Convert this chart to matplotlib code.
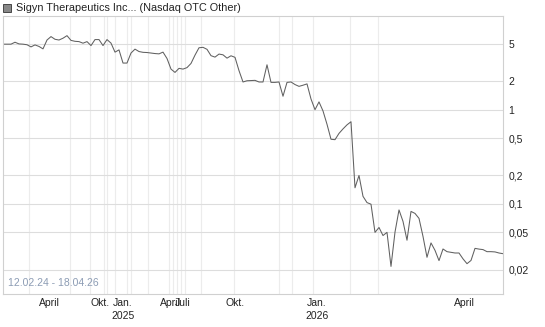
import matplotlib
matplotlib.use("Agg")
import matplotlib.pyplot as plt
from matplotlib.patches import Rectangle
import numpy as np

plt.rcParams["font.family"] = ["Liberation Sans", "DejaVu Sans"]

# Prices, one value per step of the session axis
prices = [
    4.97, 4.97, 4.97, 5.21, 5.0, 4.97, 4.9, 4.65, 4.88, 4.7,
    4.43, 5.5, 5.98, 5.6, 5.5, 5.75, 6.12, 5.45, 5.33, 5.29,
    5.09, 5.29, 4.80, 5.56, 5.56, 4.80, 5.56, 5.1, 4.09, 4.32,
    3.13, 3.13, 4.0, 4.40, 4.15, 4.07, 4.05, 4.0, 3.95, 3.92,
    4.09, 3.5, 2.7, 2.49, 2.75, 2.7, 2.8, 3.1, 3.8, 4.55,
    4.6, 4.38, 3.75, 3.62, 3.9, 3.83, 3.53, 3.74, 3.6, 2.6,
    1.97, 2.03, 2.04, 2.05, 1.97, 1.97, 3.0, 1.95, 1.95, 1.97,
    1.39, 1.95, 1.97, 1.85, 1.77, 1.82, 1.88, 1.3, 1.0, 1.21,
    0.97, 0.70, 0.485, 0.48, 0.56, 0.625, 0.69, 0.745, 0.148, 0.2,
    0.12, 0.103, 0.099, 0.0497, 0.056, 0.046, 0.0497, 0.0216, 0.05, 0.086,
    0.065, 0.041, 0.083, 0.079, 0.07, 0.045, 0.027, 0.0384, 0.032, 0.0249,
    0.0331, 0.031, 0.0305, 0.030, 0.030, 0.026, 0.0231, 0.025, 0.0336, 0.033,
    0.0326, 0.031, 0.031, 0.0308, 0.030, 0.0295,
]

# first session of each month on the session axis (Mar 2024 .. Apr 2026)
month_pos = [6.5, 11.5, 16.75, 21.75, 25.25, 26, 28, 31, 32, 36.25, 41.5,
             42.5, 43.5, 44.5, 45.5, 49.5, 57.75, 69, 72.25, 77.5, 86.75,
             93.75, 115.25]
# where the month names sit
label_pos = [11.5, 24.25, 30, 41.75, 45, 58, 78.5, 115.25]
label_txt = ["April", "Okt.", "Jan.\n2025", "April", "Juli", "Okt.",
             "Jan.\n2026", "April"]

y_ticks = [0.02, 0.05, 0.1, 0.2, 0.5, 1, 2, 5]
y_labels = ["0,02", "0,05", "0,1", "0,2", "0,5", "1", "2", "5"]

title = "Sigyn Therapeutics Inc... (Nasdaq OTC Other)"
date_range = "12.02.24 - 18.04.26"

fig = plt.figure(figsize=(5.45, 3.27), dpi=100)
ax = fig.add_axes([3 / 545, 33 / 327, 500 / 545, 278 / 327])

x = np.arange(len(prices))
ax.plot(x, prices, color="#606060", linewidth=0.75)

ax.set_yscale("log")
ax.set_ylim(0.011, 9.9)
ax.set_xlim(0, len(prices) - 1)

# y axis on the right with comma decimals
ax.yaxis.tick_right()
ax.set_yticks(y_ticks)
ax.set_yticklabels(y_labels)
ax.yaxis.set_minor_locator(matplotlib.ticker.NullLocator())
ax.tick_params(axis="y", length=0, pad=4, labelsize=7.5, labelcolor="#222222")

# month grid lines, labels only on some of them
ax.set_xticks(month_pos, minor=True)
ax.set_xticks(label_pos)
ax.set_xticklabels(label_txt, linespacing=1.3)
ax.tick_params(axis="x", which="both", length=0, pad=3, labelsize=7.5,
               labelcolor="#222222")

ax.grid(True, axis="y", which="major", color="#dddddd", linewidth=0.8)
ax.grid(True, axis="x", which="minor", color="#ececec", linewidth=0.8)
ax.grid(False, axis="x", which="major")
ax.set_axisbelow(True)

for s in ax.spines.values():
    s.set_color("#d0d0d0")
    s.set_linewidth(0.8)

ax.text(0.01, 0.04, date_range, transform=ax.transAxes, fontsize=7.5,
        color="#8c9cb4", ha="left", va="center")

# title with the small square marker
fig.patches.append(Rectangle((3 / 545, 1 - 12 / 327), 8 / 545, 8 / 327,
                             transform=fig.transFigure, facecolor="#888888",
                             edgecolor="#333333", linewidth=0.6))
fig.text(16 / 545, 1 - 8 / 327, title, fontsize=7.8, color="#222222",
         ha="left", va="center")

fig.savefig("out.png", dpi=100)
